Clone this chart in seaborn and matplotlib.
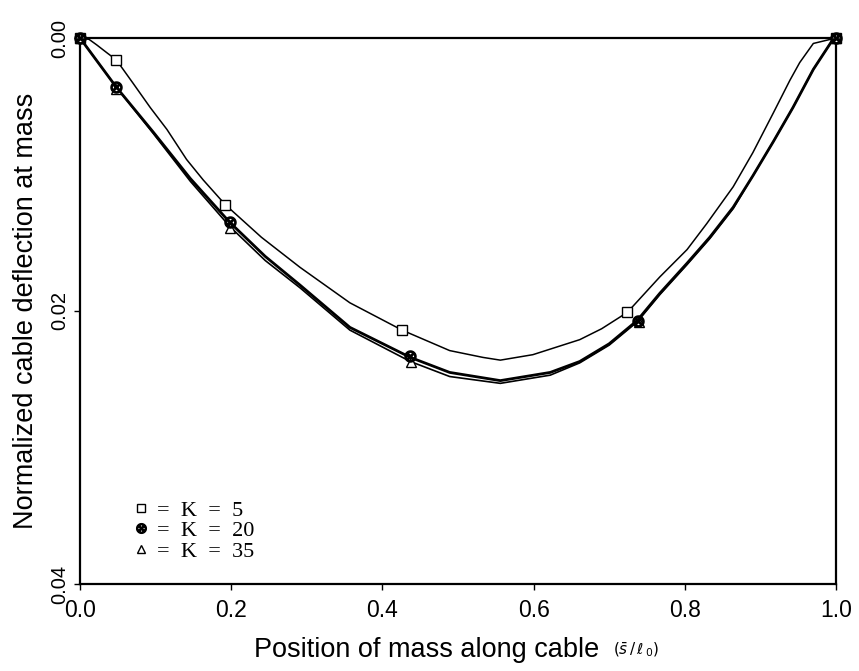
import matplotlib
matplotlib.use("Agg")
import matplotlib.pyplot as plt
from matplotlib.lines import Line2D
import seaborn as sns

# ---- data ----
k5_curve_x = [0.0, 0.012, 0.022, 0.036, 0.048, 0.07, 0.093, 0.115, 0.141, 0.163, 0.192, 0.24, 0.291,
              0.357, 0.426, 0.489, 0.533, 0.556, 0.599, 0.661, 0.69, 0.724, 0.767, 0.803, 0.829,
              0.864, 0.890, 0.917, 0.939, 0.952, 0.970, 1.0]
k5_curve_y = [0.0, 0.0001, 0.0005, 0.0011, 0.0016, 0.0033, 0.0051, 0.0067, 0.0089, 0.0104, 0.0122, 0.0146, 0.0168,
              0.0194, 0.0214, 0.0229, 0.0234, 0.0236, 0.0232, 0.0221, 0.0213, 0.0201, 0.0175, 0.0155, 0.0136,
              0.0109, 0.0084, 0.0055, 0.0031, 0.0018, 0.0004, 0.0]

k20_curve_x = [0.0, 0.048, 0.097, 0.146, 0.198, 0.245, 0.291, 0.357, 0.437, 0.489, 0.556, 0.622,
               0.661, 0.70, 0.737, 0.767, 0.803, 0.833, 0.864, 0.890, 0.917, 0.943, 0.970, 0.996, 1.0]
k20_curve_y = [0.0, 0.0036, 0.0069, 0.0103, 0.0135, 0.0160, 0.0181, 0.0212, 0.0234, 0.0245, 0.0251, 0.0245,
               0.0237, 0.0224, 0.0207, 0.0187, 0.0165, 0.0146, 0.0124, 0.0101, 0.0076, 0.0051, 0.0023, 0.0001, 0.0]

k35_curve_x = [0.0, 0.048, 0.097, 0.146, 0.198, 0.245, 0.291, 0.357, 0.437, 0.489, 0.556, 0.622,
               0.661, 0.70, 0.737, 0.767, 0.803, 0.833, 0.864, 0.890, 0.917, 0.943, 0.970, 0.996, 1.0]
k35_curve_y = [0.0, 0.0036, 0.0070, 0.0105, 0.0138, 0.0163, 0.0183, 0.0214, 0.0237, 0.0248, 0.0253, 0.0247,
               0.0238, 0.0225, 0.0208, 0.0188, 0.0166, 0.0147, 0.0125, 0.0101, 0.0076, 0.0051, 0.0023, 0.0001, 0.0]

k5_pts_x = [0.0, 0.047, 0.192, 0.426, 0.724, 1.0]
k5_pts_y = [0.0, 0.0016, 0.0122, 0.0214, 0.0201, 0.0]

k20_pts_x = [0.0, 0.048, 0.198, 0.437, 0.738, 1.0]
k20_pts_y = [0.0, 0.0036, 0.0135, 0.0233, 0.0207, 0.0]

k35_pts_x = [0.0, 0.048, 0.198, 0.438, 0.740, 1.0]
k35_pts_y = [0.0, 0.0037, 0.0139, 0.0237, 0.0208, 0.0]

x_ticks = [0.0, 0.2, 0.4, 0.6, 0.8, 1.0]
y_ticks = [0.00, 0.02, 0.04]
legend_labels = ["=  K  =  5", "=  K  =  20", "=  K  =  35"]

# ---- plot ----
sns.set_style("ticks")
plt.rcParams["font.family"] = ["Liberation Sans", "DejaVu Sans"]
for key in ["text.color", "axes.labelcolor", "xtick.color", "ytick.color", "axes.edgecolor"]:
    plt.rcParams[key] = "black"

fig = plt.figure(figsize=(8.59, 6.71), dpi=100)
ax = fig.add_axes([80 / 859, 1 - 584 / 671, 756 / 859, 546 / 671])

sns.lineplot(x=k5_curve_x, y=k5_curve_y, sort=False, ax=ax, color="black", lw=1.1, estimator=None)
sns.lineplot(x=k35_curve_x, y=k35_curve_y, sort=False, ax=ax, color="black", lw=1.2, estimator=None)
sns.lineplot(x=k20_curve_x, y=k20_curve_y, sort=False, ax=ax, color="black", lw=2.0, estimator=None)

ax.plot(k5_pts_x, k5_pts_y, ls="none", marker="s", ms=7, mfc="white", mec="black", mew=1.0, clip_on=False, zorder=5)
ax.plot(k35_pts_x, k35_pts_y, ls="none", marker="^", ms=7, mfc="white", mec="black", mew=1.0, clip_on=False, zorder=5)
ax.plot(k20_pts_x, k20_pts_y, ls="none", marker=r"$\otimes$", ms=8, color="black", clip_on=False, zorder=6)

ax.set_xlim(0, 1)
ax.set_ylim(0.04, 0.0)
ax.set_xticks(x_ticks)
ax.set_xticklabels([f"{v:.1f}" for v in x_ticks], fontsize=16.5)
ax.set_yticks(y_ticks)
ax.set_yticklabels([f"{v:.2f}" for v in y_ticks], fontsize=14.5, rotation=90, va="center")
ax.tick_params(direction="out", length=4, width=1, color="black")
ax.tick_params(axis="x", pad=7)
for s in ax.spines.values():
    s.set_linewidth(1.6)
    s.set_color("black")

ax.set_ylabel("Normalized cable deflection at mass", fontsize=19.5, labelpad=8)
ax.text(0.459, -0.121, "Position of mass along cable", transform=ax.transAxes,
        ha="center", va="center", fontsize=19.5)
ax.text(0.705, -0.121, r"$(\bar{s}\,/\,\ell_{\,0})$", transform=ax.transAxes,
        ha="left", va="center", fontsize=11, family="DejaVu Serif")

handles = [
    Line2D([], [], ls="none", marker="s", ms=6, mfc="white", mec="black", mew=1.0),
    Line2D([], [], ls="none", marker=r"$\otimes$", ms=7, color="black"),
    Line2D([], [], ls="none", marker="^", ms=6, mfc="white", mec="black", mew=1.0),
]
leg = ax.legend(handles, legend_labels, loc="lower left", bbox_to_anchor=(0.043, 0.0),
                frameon=False, handlelength=0.6, handletextpad=0.4, labelspacing=0.0,
                borderaxespad=0.6, prop={"family": "Liberation Serif", "size": 16})

fig.savefig("out.png", dpi=100)
